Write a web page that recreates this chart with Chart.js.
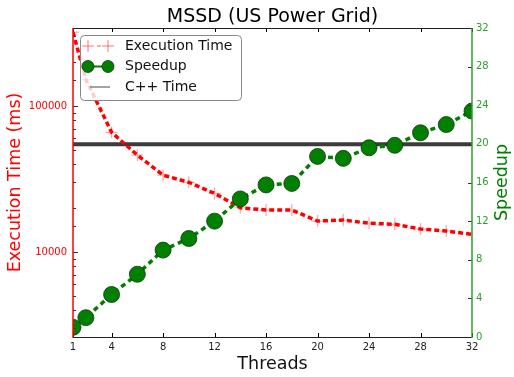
<!DOCTYPE html>
<html>
<head>
<meta charset="utf-8">
<script src="https://cdn.jsdelivr.net/npm/chart.js@4"></script>
<style>
  html, body { margin: 0; padding: 0; background: #fff; }
  #wrap { width: 514px; height: 377px; }
</style>
</head>
<body>
<div id="wrap"><canvas id="chart" width="514" height="377"></canvas></div>
<script>
// threads used in each run
const threads = [1, 2, 4, 6, 8, 10, 12, 14, 16, 18, 20, 22, 24, 26, 28, 30, 32];
// wall-clock time per run (ms)
const execTime = [320000, 152000, 66000, 46100, 33600, 30000, 25200, 20100, 19400, 19400, 16300, 16560, 15740, 15490, 14370, 13930, 13220];
// speedup over the single-thread run
const speedup = [1.0, 2.0, 4.4, 6.5, 9.0, 10.2, 12.0, 14.3, 15.75, 15.9, 18.7, 18.5, 19.6, 19.85, 21.15, 22.0, 23.4];
// reference sequential C++ time (ms)
const cppTime = 54700;

const threadTicks = [1, 4, 8, 12, 16, 20, 24, 28, 32];
const timeRange = [2620, 342000];
const speedRange = [0, 32];

const FONT = "'DejaVu Sans', 'Liberation Sans', sans-serif";
const RED = '#ff0000';
const GREEN = '#007f00';

function isDecade(v) {
  const l = Math.log10(v);
  return Math.abs(l - Math.round(l)) < 1e-9;
}

function line(ctx, x1, y1, x2, y2) {
  ctx.beginPath();
  ctx.moveTo(x1, y1);
  ctx.lineTo(x2, y2);
  ctx.stroke();
}

// spines, inward tick marks, title and axis titles
const frame = {
  id: 'frame',
  afterDatasetsDraw(chart) {
    const { ctx, chartArea: a, scales } = chart;
    ctx.save();
    ctx.lineWidth = 1;

    ctx.strokeStyle = '#000';
    scales.x.ticks.forEach(t => {
      const px = Math.round(scales.x.getPixelForValue(t.value)) + 0.5;
      line(ctx, px, a.bottom, px, a.bottom - 4);
      line(ctx, px, a.top, px, a.top + 4);
    });

    ctx.strokeStyle = '#333';
    scales.yTime.ticks.forEach(t => {
      const py = Math.round(scales.yTime.getPixelForValue(t.value)) + 0.5;
      line(ctx, a.left, py, a.left + (isDecade(t.value) ? 5 : 3), py);
    });

    scales.ySpeed.ticks.forEach(t => {
      const py = Math.round(scales.ySpeed.getPixelForValue(t.value)) + 0.5;
      line(ctx, a.right, py, a.right - 4, py);
    });

    ctx.strokeStyle = '#222';
    line(ctx, a.left, a.top + 0.5, a.right, a.top + 0.5);
    line(ctx, a.left, a.bottom + 0.5, a.right, a.bottom + 0.5);
    ctx.lineWidth = 1.5;
    ctx.strokeStyle = RED;
    line(ctx, a.left, a.top, a.left, a.bottom + 1);
    ctx.strokeStyle = '#2ca02c';
    line(ctx, a.right, a.top, a.right, a.bottom + 1);

    const cx = (a.left + a.right) / 2;
    const cy = (a.top + a.bottom) / 2;
    ctx.textAlign = 'center';
    ctx.textBaseline = 'middle';

    ctx.fillStyle = '#000';
    ctx.font = `19px ${FONT}`;
    ctx.fillText('MSSD (US Power Grid)', cx, 17);

    ctx.fillStyle = '#111';
    ctx.font = `17.5px ${FONT}`;
    ctx.fillText('Threads', cx, 364);

    ctx.save();
    ctx.translate(15, cy);
    ctx.rotate(-Math.PI / 2);
    ctx.fillStyle = RED;
    ctx.fillText('Execution Time (ms)', 0, 0);
    ctx.restore();

    ctx.save();
    ctx.translate(502, cy);
    ctx.rotate(-Math.PI / 2);
    ctx.fillStyle = GREEN;
    ctx.fillText('Speedup', 0, 0);
    ctx.restore();

    ctx.restore();
  }
};

// boxed legend in the upper-left corner of the plot
const boxLegend = {
  id: 'boxLegend',
  afterDraw(chart) {
    const { ctx } = chart;
    const x = 80.5, y = 35.5, w = 161, h = 65, r = 4;
    ctx.save();
    ctx.beginPath();
    ctx.roundRect(x, y, w, h, r);
    ctx.fillStyle = 'rgba(255,255,255,0.8)';
    ctx.fill();
    ctx.lineWidth = 1;
    ctx.strokeStyle = '#888';
    ctx.stroke();

    const rows = [46, 66.5, 87];
    const s1 = 88, s2 = 108;

    // Execution Time sample
    ctx.strokeStyle = 'rgba(255,0,0,0.45)';
    ctx.lineWidth = 1.2;
    [s1, s2].forEach(px => {
      line(ctx, px - 6, rows[0], px + 6, rows[0]);
      line(ctx, px, rows[0] - 6, px, rows[0] + 6);
    });
    ctx.lineWidth = 1.5;
    line(ctx, 97, rows[0], 101, rows[0]);

    // Speedup sample
    ctx.strokeStyle = GREEN;
    ctx.lineWidth = 2;
    line(ctx, s1, rows[1], s2, rows[1]);
    ctx.fillStyle = GREEN;
    ctx.strokeStyle = '#0a3a0a';
    ctx.lineWidth = 0.8;
    [s1, s2].forEach(px => {
      ctx.beginPath();
      ctx.arc(px, rows[1], 6, 0, Math.PI * 2);
      ctx.fill();
      ctx.stroke();
    });

    // C++ Time sample
    ctx.strokeStyle = '#666';
    ctx.lineWidth = 1.2;
    line(ctx, 90, rows[2], 110, rows[2]);

    ctx.fillStyle = '#111';
    ctx.font = `14px ${FONT}`;
    ctx.textAlign = 'left';
    ctx.textBaseline = 'middle';
    ctx.fillText('Execution Time', 125, rows[0]);
    ctx.fillText('Speedup', 125, rows[1]);
    ctx.fillText('C++ Time', 125, rows[2]);
    ctx.restore();
  }
};

new Chart(document.getElementById('chart'), {
  type: 'line',
  data: {
    datasets: [
      {
        label: 'Speedup',
        data: threads.map((t, i) => ({ x: t, y: speedup[i] })),
        yAxisID: 'ySpeed',
        borderColor: GREEN,
        borderWidth: 3.5,
        borderDash: [5, 4],
        pointRadius: 8,
        pointBackgroundColor: GREEN,
        pointBorderColor: '#0a3a0a',
        pointBorderWidth: 0.8,
        order: 0
      },
      {
        label: 'Execution Time',
        data: threads.map((t, i) => ({ x: t, y: execTime[i] })),
        yAxisID: 'yTime',
        borderColor: RED,
        borderWidth: 3.5,
        borderDash: [5, 3],
        pointStyle: 'cross',
        pointRadius: 6,
        pointBorderColor: 'rgba(255,0,0,0.35)',
        pointBorderWidth: 1.2,
        order: 1
      },
      {
        label: 'C++ Time',
        data: [{ x: threads[0], y: cppTime }, { x: threads[threads.length - 1], y: cppTime }],
        yAxisID: 'yTime',
        borderColor: 'rgba(25,25,25,0.85)',
        borderWidth: 4,
        pointRadius: 0,
        order: 2
      }
    ]
  },
  options: {
    responsive: false,
    animation: false,
    clip: 0,
    layout: { padding: { top: 28 } },
    plugins: {
      legend: { display: false },
      title: { display: false },
      tooltip: { enabled: false }
    },
    scales: {
      x: {
        type: 'linear',
        min: threads[0],
        max: threads[threads.length - 1],
        afterBuildTicks: s => { s.ticks = threadTicks.map(v => ({ value: v })); },
        afterFit: s => { s.height = 40; },
        grid: { display: false, drawTicks: false },
        border: { display: false },
        ticks: { color: '#222', font: { size: 10, family: FONT }, padding: 4, maxRotation: 0, autoSkip: false }
      },
      yTime: {
        type: 'logarithmic',
        position: 'left',
        min: timeRange[0],
        max: timeRange[1],
        afterFit: s => { s.width = 73; },
        grid: { display: false, drawTicks: false },
        border: { display: false },
        ticks: {
          color: RED,
          autoSkip: false,
          padding: 6,
          font: { size: 10, family: FONT },
          callback: v => isDecade(v) ? String(v) : ''
        }
      },
      ySpeed: {
        type: 'linear',
        position: 'right',
        min: speedRange[0],
        max: speedRange[1],
        afterFit: s => { s.width = 42; },
        grid: { display: false, drawTicks: false },
        border: { display: false },
        ticks: { color: '#2ca02c', stepSize: 4, padding: 4, font: { size: 10, family: FONT } }
      }
    }
  },
  plugins: [frame, boxLegend]
});
</script>
</body>
</html>
